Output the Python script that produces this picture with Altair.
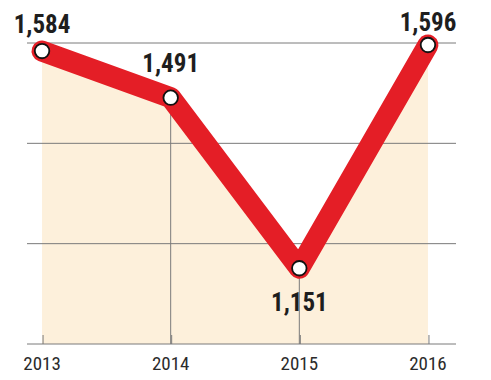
import altair as alt
import pandas as pd

years = [2013, 2014, 2015, 2016]
values = [1584, 1491, 1151, 1596]
labels = ["1,584", "1,491", "1,151", "1,596"]
grid_values = [1000, 1200, 1400, 1600]
inner_years = [2014, 2015]

df = pd.DataFrame({"year": years, "value": values, "label": labels})
grid_df = pd.DataFrame({"g": grid_values})
vdf = df[df["year"].isin(inner_years)]

W, H = 429, 301
FONT = "Roboto Condensed, Liberation Sans Narrow, DejaVu Sans Condensed, sans-serif"

xs = alt.Scale(domain=[2012.883, 2016.218], nice=False, zero=False)
ys = alt.Scale(domain=[1000, 1600], nice=False, zero=False)

x_enc = alt.X("year:Q", scale=xs, axis=None)
y_enc = alt.Y("value:Q", scale=ys, axis=None)

area = alt.Chart(df).mark_area(color="#fdf0db", opacity=1).encode(
    x=x_enc, y=y_enc, y2=alt.datum(1000)
)

hgrid = alt.Chart(grid_df).mark_rule(color="#7a7a7a", strokeWidth=1).encode(
    y=alt.Y("g:Q", scale=ys, axis=None),
    x=alt.value(0), x2=alt.value(W),
)

vgrid = alt.Chart(vdf).mark_rule(color="#7a7a7a", strokeWidth=1).encode(
    x=x_enc, y=y_enc, y2=alt.datum(1000)
)

ticks = alt.Chart(df).mark_rule(color="#7a7a7a", strokeWidth=1, xOffset=1).encode(
    x=x_enc, y=alt.value(H - 9), y2=alt.value(H)
)

year_labels = alt.Chart(df).mark_text(
    font=FONT, fontSize=19, color="#2b2b2b", baseline="middle"
).encode(
    x=x_enc, y=alt.value(H + 20), text=alt.Text("year:Q", format="d")
)

line = alt.Chart(df).mark_line(
    color="#e41e26", strokeWidth=21, strokeJoin="round", strokeCap="round"
).encode(x=x_enc, y=y_enc)

points = alt.Chart(df).mark_point(
    shape="circle", filled=True, fill="white", stroke="#111111",
    strokeWidth=1.8, size=210, opacity=1
).encode(x=x_enc, y=y_enc)


def vlabel(cond, dy):
    return alt.Chart(df).transform_filter(cond).mark_text(
        font=FONT, fontSize=25, fontWeight="bold", color="#1e1e1e",
        baseline="middle", dy=dy
    ).encode(x=x_enc, y=y_enc, text="label:N")


lab_2013 = vlabel("datum.year == 2013", -26)
lab_2016 = vlabel("datum.year == 2016", -22)
lab_2014 = vlabel("datum.year == 2014", -34)
lab_2015 = vlabel("datum.year == 2015", 35)

chart = alt.layer(
    area, hgrid, vgrid, ticks, year_labels, line, points,
    lab_2013, lab_2014, lab_2015, lab_2016
).properties(
    width=W, height=H,
    autosize=alt.AutoSizeParams(type="none"),
    padding={"left": 19, "top": 35, "right": 20, "bottom": 30},
).configure_view(stroke=None)

chart.save("out.html", embed_options={"renderer": "svg", "actions": False})
